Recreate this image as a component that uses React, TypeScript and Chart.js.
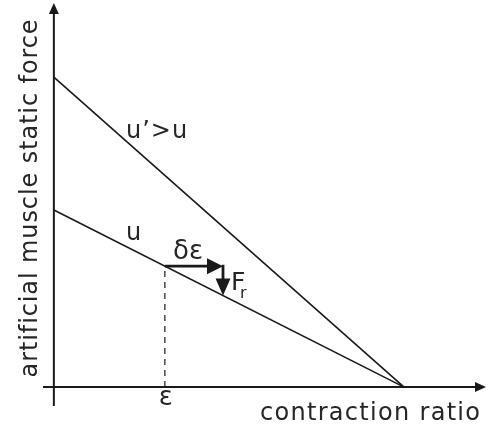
import React, { useEffect, useRef } from "react";
import { Chart, registerables } from "chart.js";

Chart.register(...registerables);

// Data (normalised units: contraction ratio on x, static force on y)
const upperLine = [
  { x: 0, y: 1.0 },
  { x: 1, y: 0 },
];
const lowerLine = [
  { x: 0, y: 0.571 },
  { x: 1, y: 0 },
];
const epsilon = 0.317;
const deltaEpsilon = 0.166;
const lowerAt = (x: number) => 0.571 * (1 - x);

const xTitle = "contraction ratio";
const yTitle = "artificial muscle static force";

const FONT = "'DejaVu Sans', sans-serif";
const INK = "#1a1a1a";
const TEXT = "#262626";

const overlay = {
  id: "overlay",
  afterDatasetsDraw(chart: any) {
    const { ctx, scales } = chart;
    const xs = scales.x;
    const ys = scales.y;
    const px = (v: number) => xs.getPixelForValue(v);
    const py = (v: number) => ys.getPixelForValue(v);
    ctx.save();
    ctx.strokeStyle = INK;
    ctx.fillStyle = INK;

    const head = (tx: number, ty: number, dir: "right" | "up" | "down", len: number, half: number) => {
      ctx.beginPath();
      if (dir === "right") {
        ctx.moveTo(tx, ty);
        ctx.lineTo(tx - len, ty - half);
        ctx.lineTo(tx - len, ty + half);
      } else if (dir === "up") {
        ctx.moveTo(tx, ty);
        ctx.lineTo(tx - half, ty + len);
        ctx.lineTo(tx + half, ty + len);
      } else {
        ctx.moveTo(tx, ty);
        ctx.lineTo(tx - half, ty - len);
        ctx.lineTo(tx + half, ty - len);
      }
      ctx.closePath();
      ctx.fill();
    };

    // axes
    ctx.lineWidth = 2;
    ctx.beginPath();
    ctx.moveTo(px(xs.min), py(0));
    ctx.lineTo(px(xs.max) - 6, py(0));
    ctx.moveTo(px(0), py(ys.min));
    ctx.lineTo(px(0), py(ys.max) + 6);
    ctx.stroke();
    head(px(xs.max), py(0), "right", 11, 5);
    head(px(0), py(ys.max), "up", 11, 5);

    // delta-epsilon arrows
    const y0 = lowerAt(epsilon);
    const x1 = epsilon + deltaEpsilon;
    const y1 = lowerAt(x1);
    ctx.lineWidth = 2.8;
    ctx.beginPath();
    ctx.moveTo(px(epsilon), py(y0));
    ctx.lineTo(px(x1) - 12, py(y0));
    ctx.moveTo(px(x1), py(y0) - 1.4);
    ctx.lineTo(px(x1), py(y1) - 12);
    ctx.stroke();
    head(px(x1), py(y0), "right", 16, 8);
    head(px(x1), py(y1), "down", 17, 7.5);

    // labels
    ctx.fillStyle = TEXT;
    ctx.textBaseline = "alphabetic";
    ctx.textAlign = "left";
    (ctx as any).letterSpacing = "1px";
    ctx.font = `24px ${FONT}`;
    ctx.fillText("u\u2019>u", 126, 138);
    ctx.fillText("u", 126, 240);
    (ctx as any).letterSpacing = "0px";
    ctx.font = `26px ${FONT}`;
    ctx.fillText("\u03b4\u03b5", 173, 259);
    ctx.font = `25px ${FONT}`;
    ctx.fillText("F", 231, 290);
    ctx.font = `16px ${FONT}`;
    ctx.fillText("r", 240, 298);
    ctx.font = `26px ${FONT}`;
    ctx.textAlign = "center";
    ctx.fillText("\u03b5", px(epsilon) + 1, 405);
    ctx.font = `24px ${FONT}`;
    ctx.textAlign = "left";
    (ctx as any).letterSpacing = "1.3px";
    ctx.fillText(xTitle, 260, 420);
    (ctx as any).letterSpacing = "0.9px";
    ctx.translate(37, 198);
    ctx.rotate(-Math.PI / 2);
    ctx.textAlign = "center";
    ctx.fillText(yTitle, 0, 0);
    ctx.restore();
  },
};

export default function App() {
  const ref = useRef<HTMLCanvasElement | null>(null);
  useEffect(() => {
    if (!ref.current) return;
    const chart = new Chart(ref.current, {
      type: "scatter",
      data: {
        datasets: [
          { data: upperLine, showLine: true, borderColor: INK, borderWidth: 1.6, pointRadius: 0 },
          { data: lowerLine, showLine: true, borderColor: INK, borderWidth: 1.6, pointRadius: 0 },
          {
            data: [
              { x: epsilon, y: 0 },
              { x: epsilon, y: lowerAt(epsilon) },
            ],
            showLine: true,
            borderColor: INK,
            borderWidth: 1.2,
            borderDash: [6, 5],
            pointRadius: 0,
          },
        ],
      },
      options: {
        responsive: false,
        animation: false,
        events: [],
        layout: { padding: { left: 43, right: 0, top: 3, bottom: 19 } },
        plugins: { legend: { display: false }, tooltip: { enabled: false } },
        scales: {
          x: { type: "linear", min: -0.031, max: 1.234, display: false },
          y: { type: "linear", min: -0.061, max: 1.239, display: false },
        },
      },
      plugins: [overlay],
    });
    return () => chart.destroy();
  }, []);
  return (
    <div style={{ position: "fixed", left: 0, top: 0, width: 486, height: 425, background: "#fff" }}>
      <canvas ref={ref} width={486} height={425} style={{ width: 486, height: 425, display: "block" }} />
    </div>
  );
}
